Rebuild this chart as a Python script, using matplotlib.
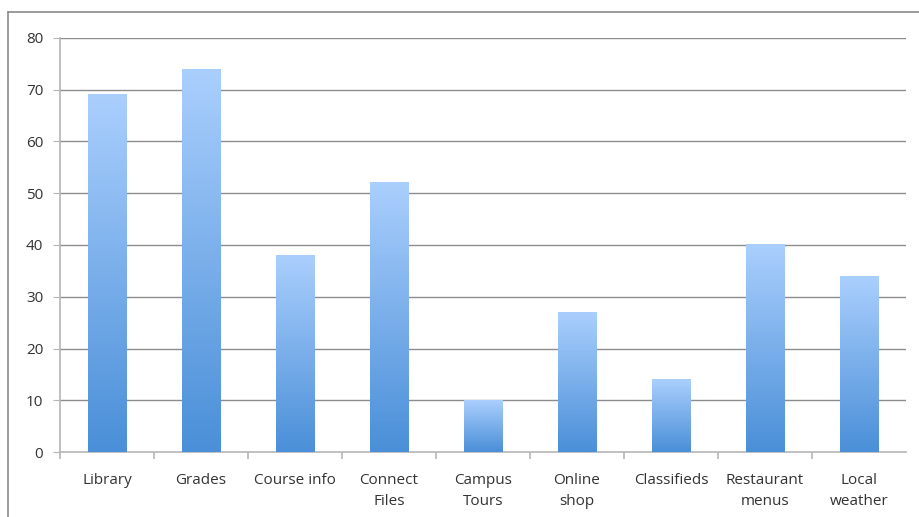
import numpy as np
import matplotlib
matplotlib.use("Agg")
import matplotlib.pyplot as plt
from matplotlib.colors import LinearSegmentedColormap
from matplotlib.lines import Line2D

categories = ["Library", "Grades", "Course info", "Connect\nFiles", "Campus\nTours",
              "Online\nshop", "Classifieds", "Restaurant\nmenus", "Local\nweather"]
values = [69, 74, 38, 52, 10, 27, 14, 40, 34]
y_ticks = [0, 10, 20, 30, 40, 50, 60, 70, 80]

plt.rcParams['font.family'] = ['Open Sans', 'DejaVu Sans']

fig = plt.figure(figsize=(9.2, 5.17), dpi=100)
ax = fig.add_axes([60 / 920, 1 - 452 / 517, 846 / 920, 414 / 517])

# frame around the chart (left and top edges visible)
fig.add_artist(Line2D([8 / 920, 8 / 920], [0, 1 - 12 / 517], color='#8a8a8a', lw=1.2,
                      transform=fig.transFigure))
fig.add_artist(Line2D([8 / 920, 1], [1 - 12 / 517, 1 - 12 / 517], color='#8a8a8a', lw=1.2,
                      transform=fig.transFigure))

for y in y_ticks[1:]:
    ax.axhline(y, color='#8c8c8c', lw=1.0, zorder=1)

cmap = LinearSegmentedColormap.from_list('blues', ['#4a8fd8', '#aacffd'])
grad = np.linspace(0, 1, 256).reshape(-1, 1)
width = 0.41
bars = ax.bar(range(len(values)), values, width=width, color='none', zorder=2)
for b, v in zip(bars, values):
    x0 = b.get_x()
    ax.imshow(grad, extent=(x0, x0 + width, 0, v), origin='lower', cmap=cmap,
              aspect='auto', zorder=3)
ax.set_xlim(-0.5, len(categories) - 0.5)
ax.set_ylim(0, 80)

for s in ['top', 'right']:
    ax.spines[s].set_visible(False)
ax.spines['left'].set_color('#b5b5b5')
ax.spines['bottom'].set_color('#b5b5b5')
ax.spines['left'].set_linewidth(1.2)
ax.spines['bottom'].set_linewidth(1.2)

ax.set_yticks(y_ticks)
ax.tick_params(axis='y', length=5, color='#b5b5b5', labelsize=11, labelcolor='#333333', pad=7)

ax.set_xticks(range(len(categories)))
ax.set_xticklabels(categories, fontsize=11, color='#333333', va='top', linespacing=1.55)
ax.tick_params(axis='x', which='major', length=0, pad=15)
ax.set_xticks(np.arange(-0.5, len(categories) - 1, 1.0), minor=True)
ax.tick_params(axis='x', which='minor', length=5, color='#b5b5b5', width=1.2)

fig.savefig('out.png', dpi=100)
